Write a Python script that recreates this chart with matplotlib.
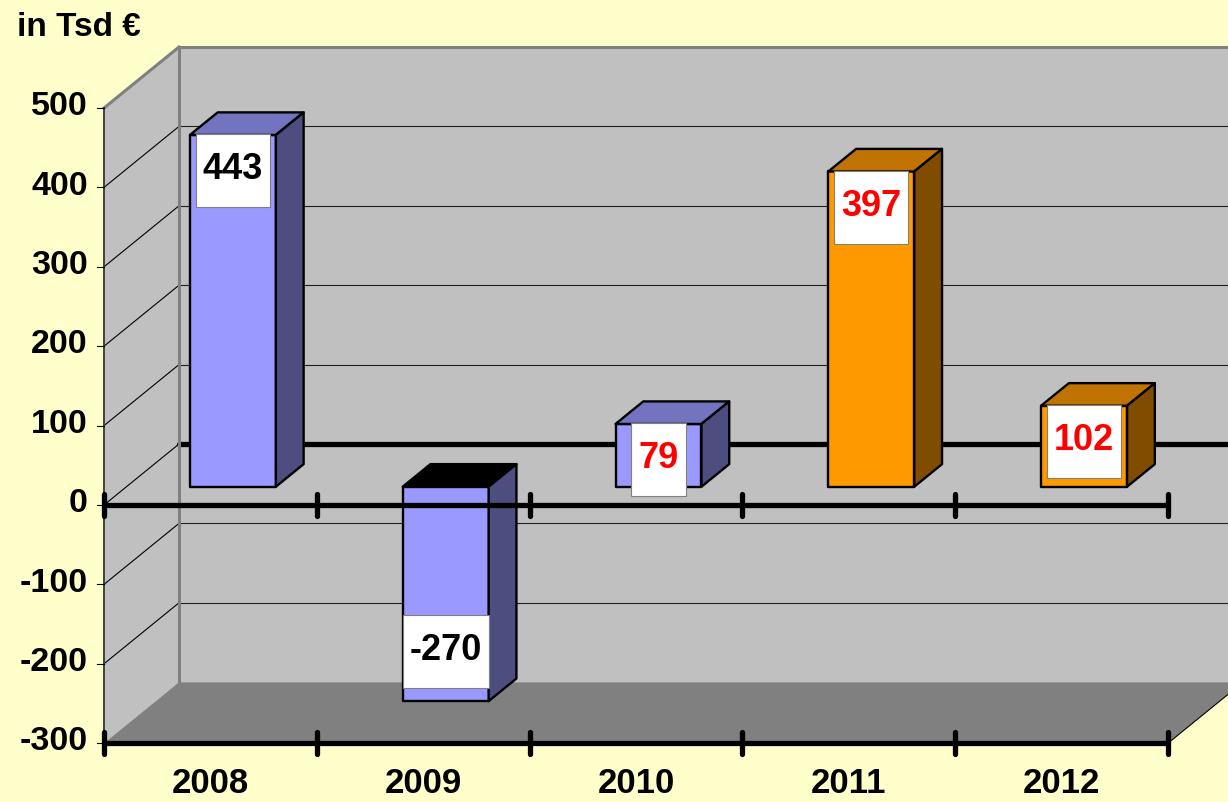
import matplotlib
matplotlib.use('Agg')
import matplotlib.pyplot as plt
from matplotlib.patches import Polygon, Rectangle
from matplotlib.transforms import IdentityTransform

plt.rcParams['font.family'] = ['Liberation Sans', 'DejaVu Sans']

# ---- data ----
years = ['2008', '2009', '2010', '2011', '2012']
values = [443, -270, 79, 397, 102]
label_colors = ['black', 'black', 'red', 'red', 'red']
front_colors = ['#9999FF', '#9999FF', '#9999FF', '#FF9900', '#FF9900']
top_colors = ['#7373BF', '#000000', '#7373BF', '#C07300', '#C07300']
side_colors = ['#4D4D80', '#4D4D80', '#4D4D80', '#804D00', '#804D00']
y_ticks = [-300, -200, -100, 0, 100, 200, 300, 400, 500]
unit_label = 'in Tsd €'

# ---- layout ----
W, H = 1228, 802
fig = plt.figure(figsize=(W / 100, H / 100), dpi=100)
fig.patch.set_facecolor('#FFFFCC')
ax = fig.add_axes([0, 0, 1, 1])
ax.set_axis_off()

PX_X = 212.8   # pixels per category
PX_V = 0.794   # pixels per value unit
X0, Y0 = 104, 505
ax.set_xlim(-X0 / PX_X, (W - X0) / PX_X)
ax.set_ylim(-(H - Y0) / PX_V, Y0 / PX_V)
DX = 75 / PX_X
DY = 61 / PX_V


def P(x, v, d):
    return (x + d * DX, v + d * DY)


n = len(years)
vmin, vmax = y_ticks[0], y_ticks[-1]

# walls and floor
ax.add_patch(Polygon([P(0, vmin, 1), P(n, vmin, 1), P(n, vmax, 1), P(0, vmax, 1)],
                     fc='#C0C0C0', ec='none', zorder=1))
ax.add_patch(Polygon([P(0, vmin, 0), P(0, vmin, 1), P(0, vmax, 1), P(0, vmax, 0)],
                     fc='#C0C0C0', ec='none', zorder=1))
ax.add_patch(Polygon([P(0, vmin, 0), P(n, vmin, 0), P(n, vmin, 1), P(0, vmin, 1)],
                     fc='#808080', ec='none', zorder=1))

# gridlines
for v in y_ticks[1:-1]:
    if v == 0:
        continue
    (xa, ya), (xb, yb) = P(0, v, 1), P(n, v, 1)
    ax.plot([xa, xb], [ya, yb], color='#202020', lw=0.8, zorder=2)
for v in y_ticks[:-1]:
    (xa, ya), (xb, yb) = P(0, v, 0), P(0, v, 1)
    if v != vmin:
        ax.plot([xa, xb], [ya, yb], color='black', lw=0.8, zorder=2)
# back zero line
(xa, ya), (xb, yb) = P(0, 0, 1), P(n, 0, 1)
ax.plot([xa, xb], [ya, yb], color='black', lw=3.8, solid_capstyle='round', zorder=2)

# wall edges
for a, b in [(P(0, vmin, 1), P(0, vmax, 1)), (P(0, vmax, 1), P(n, vmax, 1)),
             (P(0, vmax, 0), P(0, vmax, 1))]:
    ax.plot([a[0], b[0]], [a[1], b[1]], color='#808080', lw=2.2, zorder=2)
a, b = P(0, vmin, 0), P(0, vmax, 0)
ax.plot([a[0], b[0]], [a[1], b[1]], color='#404040', lw=1.4, zorder=2)
a, b = P(n, vmin, 0), P(n, vmin, 1)
ax.plot([a[0], b[0]], [a[1], b[1]], color='black', lw=0.8, zorder=2)

# y tick marks and labels
for v in y_ticks:
    x, y = P(0, v, 0)
    ax.plot([x - 7 / PX_X, x], [y, y], color='black', lw=0.8, zorder=2)
    ax.annotate(str(v), xy=(x, y), xytext=(-16 * 0.72, 1), textcoords='offset points',
                ha='right', va='center', fontsize=24.5, fontweight='bold', zorder=5)

# bars
hw, d0, d1 = 0.202, 0.30, 0.67
for i, v in enumerate(values):
    xc = i + 0.5
    lo, hi = min(0, v), max(0, v)
    front = [P(xc - hw, lo, d0), P(xc + hw, lo, d0), P(xc + hw, hi, d0), P(xc - hw, hi, d0)]
    top = [P(xc - hw, hi, d0), P(xc + hw, hi, d0), P(xc + hw, hi, d1), P(xc - hw, hi, d1)]
    side = [P(xc + hw, lo, d0), P(xc + hw, lo, d1), P(xc + hw, hi, d1), P(xc + hw, hi, d0)]
    for poly, c in [(front, front_colors[i]), (top, top_colors[i]), (side, side_colors[i])]:
        ax.add_patch(Polygon(poly, fc=c, ec='black', lw=1.7, joinstyle='round', zorder=3))

# front axis lines with ticks
for v in [0, vmin]:
    a, b = P(0, v, 0), P(n, v, 0)
    ax.plot([a[0], b[0]], [a[1], b[1]], color='black', lw=3.8, solid_capstyle='butt', zorder=4)
    for k in range(n + 1):
        x, y = P(k, v, 0)
        ax.plot([x, x], [y - 14, y + 14], color='black', lw=3.8,
                solid_capstyle='round', zorder=4)

# category labels
for i, yr in enumerate(years):
    x, y = P(i + 0.5, vmin, 0)
    ax.annotate(yr, xy=(x, y), xytext=(0, -40 * 0.72), textcoords='offset points',
                ha='center', va='center', fontsize=25, fontweight='bold', zorder=5)

# value labels with white boxes
fig.canvas.draw()
renderer = fig.canvas.get_renderer()
for i, v in enumerate(values):
    xc = i + 0.5
    cx, cy = ax.transData.transform(P(xc, v, d0))
    cy = cy - 36 if v >= 0 else cy + 50
    t = fig.text(cx, cy + 1, str(v), transform=IdentityTransform(), ha='center', va='center',
                 fontsize=26, fontweight='bold', color=label_colors[i], zorder=6)
    bb = t.get_window_extent(renderer=renderer)
    w = bb.width + 14
    fig.add_artist(Rectangle((cx - w / 2, cy - 36.5), w, 73, transform=IdentityTransform(),
                             fc='white', ec='#808080', lw=0.8, zorder=5))

fig.text(17 / W, 1 - 28 / H, unit_label, ha='left', va='center',
         fontsize=24, fontweight='bold')

fig.savefig('out.png', dpi=100, facecolor=fig.get_facecolor())
